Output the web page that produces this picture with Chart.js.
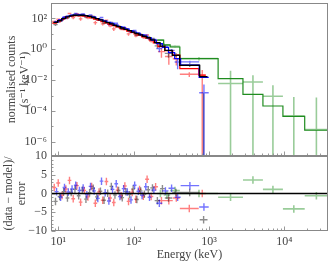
<!DOCTYPE html>
<html>
<head>
<meta charset="utf-8">
<script src="https://cdn.jsdelivr.net/npm/chart.js@4.4.1/dist/chart.umd.min.js"></script>
<style>
  html, body { margin: 0; padding: 0; background: #fff; }
  #wrap { position: relative; width: 334px; height: 264px; overflow: hidden; }
  canvas { position: absolute; left: 0; }
  #top { top: 0; }
  #bottom { top: 146px; }
</style>
</head>
<body>
<div id="wrap">
  <canvas id="top" width="334" height="160"></canvas>
  <canvas id="bottom" width="334" height="118"></canvas>
</div>
<script>
// axis ranges and tick labels
const xMin = 8, xMax = 37900;
const yTopMin = 1.2e-7, yTopMax = 1000;
const resMin = -10, resMax = 10;
const xTickValues = [10, 100, 1000, 10000];
const yTopTickValues = [1e-6, 1e-4, 1e-2, 1, 100];
const yTopMinorValues = [1e-7, 1e-5, 1e-3, 1e-1, 10];
const yResTickValues = [-10, -5, 0, 5, 10];
const yResMinorValues = [-9, -8, -7, -6, -4, -3, -2, -1, 1, 2, 3, 4, 6, 7, 8, 9];

// detector 1 (black): bin edges (keV), model, data, error, residual
const kEdges = [8.6, 9.8, 11.1, 12.5, 14.0, 15.7, 17.6, 19.7, 22.0, 24.6, 27.5, 30.7, 34.3, 38.3, 42.8, 47.8, 53.4, 59.7, 66.7, 74.6, 83.4, 93.3, 104, 117, 131, 147, 166, 190, 224, 259, 325, 408, 752, 955];
const kModel = [55, 72, 98, 125, 148, 160, 163, 160, 150, 135, 115, 97, 80, 66, 54, 44, 36, 29.5, 24, 19.5, 16, 13, 10.5, 8.5, 7.0, 5.6, 4.1, 2.7, 1.6, 0.85, 0.40, 0.09, 0.017];
const kData = [40.0, 64.5, 104.4, 105.5, 153.8, 182.9, 150.3, 178.7, 120.8, 138.5, 135.9, 85.7, 86.2, 50.6, 54.7, 54.9, 34.1, 32.6, 20.6, 20.8, 15.4, 15.0, 8.3, 9.3, 6.8, 6.3, 5.02, 1.67, 2.12, 0.54, 0.44, 0.098, -0.001];
const kErr = [7.2, 9.4, 12.7, 16.3, 19.2, 20.8, 21.2, 20.8, 19.5, 17.6, 15.0, 12.6, 10.4, 8.6, 7.0, 5.7, 4.7, 3.8, 3.1, 2.5, 2.1, 1.7, 1.4, 1.1, 0.9, 0.73, 0.62, 0.54, 0.4, 0.26, 0.14, 0.027, 0.0024];
const kResid = [-2.1, -0.8, 0.5, -1.2, 0.3, 1.1, -0.6, 0.9, -1.5, 0.2, 1.4, -0.9, 0.6, -1.8, 0.1, 1.9, -0.4, 0.8, -1.1, 0.5, -0.3, 1.2, -1.6, 0.7, -0.2, 1.0, 1.5, -1.9, 1.3, -1.2, 0.3, 0.3, -7.0];

// detector 2 (red)
const rEdges = [8.3, 9.4, 10.6, 11.9, 13.3, 14.9, 16.7, 18.7, 20.9, 23.4, 26.2, 29.3, 32.8, 36.7, 41.1, 46.0, 51.5, 57.6, 64.5, 72.2, 80.8, 90.4, 101, 113, 127, 142, 160, 182, 210, 260, 330, 410, 730, 905];
const rModel = [50, 62, 85, 110, 133, 146, 150, 148, 140, 126, 108, 91, 76, 62, 51, 41.5, 34, 28, 23, 18.5, 15, 12.3, 10, 8.1, 6.6, 5.3, 4.0, 2.6, 1.5, 0.8, 0.42, 0.056, 0.021];
const rData = [62.8, 89.8, 78.2, 131.1, 207.5, 113.3, 200.4, 93.5, 157.9, 107.9, 140.8, 53.1, 80.9, 44.1, 77.1, 33.5, 20.9, 32.0, 20.8, 24.4, 10.0, 12.9, 7.6, 9.5, 5.9, 8.5, 3.46, 3.63, 0.70, 0.34, 0.24, 0.024, 0.021];
const rErr = [8.0, 9.9, 13.6, 17.6, 21.3, 23.4, 24.0, 23.7, 22.4, 20.2, 17.3, 14.6, 12.2, 9.9, 8.2, 6.6, 5.4, 4.5, 3.7, 3.0, 2.4, 2.0, 1.6, 1.3, 1.06, 0.85, 0.68, 0.57, 0.42, 0.24, 0.15, 0.008, 0.025];
const rResid = [1.6, 2.8, -0.5, 1.2, 3.5, -1.4, 2.1, -2.3, 0.8, -0.9, 1.9, -2.6, 0.4, -1.8, 3.2, -1.2, -2.4, 0.9, -0.6, 2.0, -2.1, 0.3, -1.5, 1.1, -0.7, 3.8, -0.8, 1.8, -1.9, -1.9, -1.2, -4.0, 0.0];

// detector 3 (blue)
const bEdges = [8.9, 10.1, 11.4, 12.8, 14.4, 16.1, 18.0, 20.2, 22.6, 25.3, 28.3, 31.6, 35.4, 39.6, 44.3, 49.6, 55.5, 62.1, 69.5, 77.8, 87.1, 97.5, 109, 122, 137, 153, 172, 200, 240, 290, 350, 420, 740, 990];
const bModel = [60, 80, 108, 135, 155, 165, 168, 164, 154, 138, 118, 99, 82, 67, 55, 45, 37, 30, 24.5, 20, 16.3, 13.2, 10.7, 8.6, 7.0, 5.5, 3.9, 2.3, 1.3, 0.6, 0.25, 0.093, 0.015];
const bData = [63.6, 70.4, 128.7, 141.5, 177.3, 208.6, 184.1, 193.5, 148.5, 169.5, 127.9, 83.6, 114.5, 68.6, 41.8, 50.9, 48.5, 27.1, 28.3, 21.0, 13.0, 16.7, 11.5, 8.1, 8.5, 4.8, 4.4, 1.1, 1.53, 0.85, 0.15, 0.152, 0.0015];
const bErr = [7.2, 9.6, 13.0, 16.2, 18.6, 19.8, 20.2, 19.7, 18.5, 16.6, 14.2, 11.9, 9.8, 8.0, 6.6, 5.4, 4.4, 3.6, 2.9, 2.4, 2.0, 1.6, 1.3, 1.03, 0.84, 0.66, 0.55, 0.46, 0.33, 0.18, 0.1, 0.028, 0.0037];
const bResid = [0.5, -1.0, 1.6, 0.4, 1.2, 2.2, 0.8, 1.5, -0.3, 1.9, 0.7, -1.3, 3.3, 0.2, -2.0, 1.1, 2.6, -0.8, 1.3, 0.4, -1.7, 2.2, 0.6, -0.5, 1.8, -1.0, 0.9, -2.6, 0.7, 1.4, -1.0, 2.1, -3.6];

// detector 4 (green, high energy)
const gEdges = [205, 250, 305, 410, 1320, 2820, 5190, 9560, 18600, 38000];
const gModel = [3.9, 1.9, 1.4, 0.25, 0.0125, 0.0012, 2.1e-4, 4.5e-5, 5.6e-6];
const gData = [3.9, 1.8, 1.55, 0.25, 0.006, 0.0076, 9e-4, 4.6e-5, 6.3e-6];
const gErr = [0.4, 0.3, 0.25, 0.06, 0.034, 0.013, 0.0038, 7.6e-4, 7.4e-4];
const gResid = [0.0, -0.4, 0.8, 0.0, -1.0, 3.6, 1.1, -4.1, -0.6];

Chart.defaults.font.family = "'Liberation Serif', 'DejaVu Serif', serif";
Chart.defaults.font.size = 12;
Chart.defaults.color = '#444';

const SUP = { '-': '\u207B', '0': '\u2070', '1': '\u00B9', '2': '\u00B2', '3': '\u00B3', '4': '\u2074', '5': '\u2075', '6': '\u2076', '7': '\u2077', '8': '\u2078', '9': '\u2079' };
const power = v => '10' + String(Math.round(Math.log10(v))).split('').map(c => SUP[c]).join('');
const AXIS_W = 51;

// model as a histogram line over the bins
function stepPoints(edges, model) {
    const pts = [];
    model.forEach((m, i) => {
        pts.push({ x: edges[i], y: m }, { x: edges[i + 1], y: m });
    });
    return pts;
}

// data crosses: bin width and error bar, separated by gaps
function crossPoints(edges, vals, errs) {
    const pts = [];
    vals.forEach((v, i) => {
        const lo = edges[i], hi = edges[i + 1], c = Math.sqrt(lo * hi);
        if (v > 0) pts.push({ x: lo, y: v }, { x: hi, y: v }, { x: c, y: null });
        const low = v - errs[i] > 0 ? v - errs[i] : 1e-12;
        pts.push({ x: c, y: low }, { x: c, y: v + errs[i] }, { x: c, y: null });
    });
    return pts;
}

function residPoints(edges, res) {
    const pts = [];
    res.forEach((r, i) => {
        const lo = edges[i], hi = edges[i + 1], c = Math.sqrt(lo * hi);
        pts.push({ x: lo, y: r }, { x: hi, y: r }, { x: c, y: null });
        pts.push({ x: c, y: r - 1 }, { x: c, y: r + 1 }, { x: c, y: null });
    });
    return pts;
}

function lineSet(data, color, width) {
    return { data, borderColor: color, borderWidth: width, pointRadius: 0, fill: false, tension: 0, spanGaps: false };
}

// frame and inward ticks
const framePlugin = {
    id: 'frame',
    afterDraw(chart, args, opts) {
        const { ctx, chartArea: a, scales } = chart;
        const l = Math.round(a.left) + 0.5, r = Math.round(a.right) - 0.5;
        const t = Math.round(a.top) + 0.5, b = Math.round(a.bottom) - 0.5;
        ctx.save();
        ctx.lineWidth = 1;
        ctx.strokeStyle = '#999';
        ctx.beginPath();
        for (let d = 0; d <= 4; d++) {
            for (let m = 1; m <= 9; m++) {
                const val = m * Math.pow(10, d);
                if (val < xMin || val > xMax) continue;
                const px = Math.round(scales.x.getPixelForValue(val)) + 0.5;
                const len = m === 1 ? 4 : 2;
                ctx.moveTo(px, b); ctx.lineTo(px, b - len);
            }
        }
        const ys = scales.y;
        opts.major.forEach(v => {
            const py = Math.round(ys.getPixelForValue(v)) + 0.5;
            ctx.moveTo(l, py); ctx.lineTo(l + 4, py);
        });
        opts.minor.forEach(v => {
            if (v < ys.min || v > ys.max) return;
            const py = Math.round(ys.getPixelForValue(v)) + 0.5;
            ctx.moveTo(l, py); ctx.lineTo(l + 2, py);
        });
        ctx.stroke();
        ctx.strokeStyle = '#888';
        ctx.strokeRect(l, t, r - l, b - t);
        ctx.restore();
    }
};

const black = '#000000', red = '#ff0000', blue = '#0000ff', green = '#1f8c1f';
const blackA = 'rgba(0,0,0,0.45)', redA = 'rgba(255,0,0,0.5)', blueA = 'rgba(0,0,255,0.55)', greenA = 'rgba(0,128,0,0.4)';

const topSets = [
    lineSet(stepPoints(kEdges, kModel), black, 1.3),
    lineSet(stepPoints(bEdges, bModel), blue, 1.2),
    lineSet(stepPoints(rEdges, rModel), red, 1.2),
    lineSet(stepPoints(gEdges, gModel), green, 1.2),
    lineSet(crossPoints(bEdges, bData, bErr), blueA, 1.4),
    lineSet(crossPoints(kEdges, kData, kErr), blackA, 1.4),
    lineSet(crossPoints(rEdges, rData, rErr), redA, 1.4),
    lineSet(crossPoints(gEdges, gData, gErr), greenA, 1.6)
];

const bottomSets = [
    lineSet([{ x: xMin, y: 0 }, { x: xMax, y: 0 }], black, 1.3),
    lineSet(residPoints(bEdges, bResid), blueA, 1.4),
    lineSet(residPoints(kEdges, kResid), blackA, 1.4),
    lineSet(residPoints(rEdges, rResid), redA, 1.4),
    lineSet(residPoints(gEdges, gResid), greenA, 1.6)
];

new Chart(document.getElementById('top'), {
    type: 'line',
    data: { datasets: topSets },
    options: {
        animation: false,
        responsive: false,
        layout: { padding: { top: 3, right: 6, bottom: 4, left: 0 } },
        plugins: { legend: { display: false }, tooltip: { enabled: false }, frame: { major: yTopTickValues, minor: yTopMinorValues } },
        scales: {
            x: { type: 'logarithmic', min: xMin, max: xMax, display: false },
            y: {
                type: 'logarithmic', min: yTopMin, max: yTopMax,
                grid: { display: false, drawTicks: false },
                border: { display: false },
                ticks: { padding: 4, autoSkip: false, callback: v => power(v) },
                title: { display: true, text: ['normalised counts', '(s\u207B\u00B9 keV\u207B\u00B9)'], font: { lineHeight: 1.05 }, padding: { top: 6, bottom: 0 } },
                afterBuildTicks: s => { s.ticks = yTopTickValues.map(v => ({ value: v })); },
                afterFit: s => { s.width = AXIS_W; s.paddingTop = 0; s.paddingBottom = 0; }
            }
        }
    },
    plugins: [framePlugin]
});

new Chart(document.getElementById('bottom'), {
    type: 'line',
    data: { datasets: bottomSets },
    options: {
        animation: false,
        responsive: false,
        layout: { padding: { top: 10, right: 6, bottom: 0, left: 0 } },
        plugins: { legend: { display: false }, tooltip: { enabled: false }, frame: { major: yResTickValues, minor: yResMinorValues } },
        scales: {
            x: {
                type: 'logarithmic', min: xMin, max: xMax,
                grid: { display: false, drawTicks: false },
                border: { display: false },
                ticks: { padding: 4, autoSkip: false, maxRotation: 0, callback: v => power(v) },
                title: { display: true, text: 'Energy (keV)', padding: { top: 0, bottom: 2 } },
                afterBuildTicks: s => { s.ticks = xTickValues.map(v => ({ value: v })); },
                afterFit: s => { s.height = 33; s.paddingLeft = 0; s.paddingRight = 0; }
            },
            y: {
                type: 'linear', min: resMin, max: resMax,
                grid: { display: false, drawTicks: false },
                border: { display: false },
                ticks: { padding: 4, autoSkip: false, callback: v => (v < 0 ? '\u2212' + Math.abs(v) : String(v)) },
                title: { display: true, text: ['(data \u2212 model)/', 'error'], font: { lineHeight: 1.05 }, padding: { top: 3, bottom: 0 } },
                afterBuildTicks: s => { s.ticks = yResTickValues.map(v => ({ value: v })); },
                afterFit: s => { s.width = AXIS_W; s.paddingTop = 0; s.paddingBottom = 0; }
            }
        }
    },
    plugins: [framePlugin]
});
</script>
</body>
</html>
